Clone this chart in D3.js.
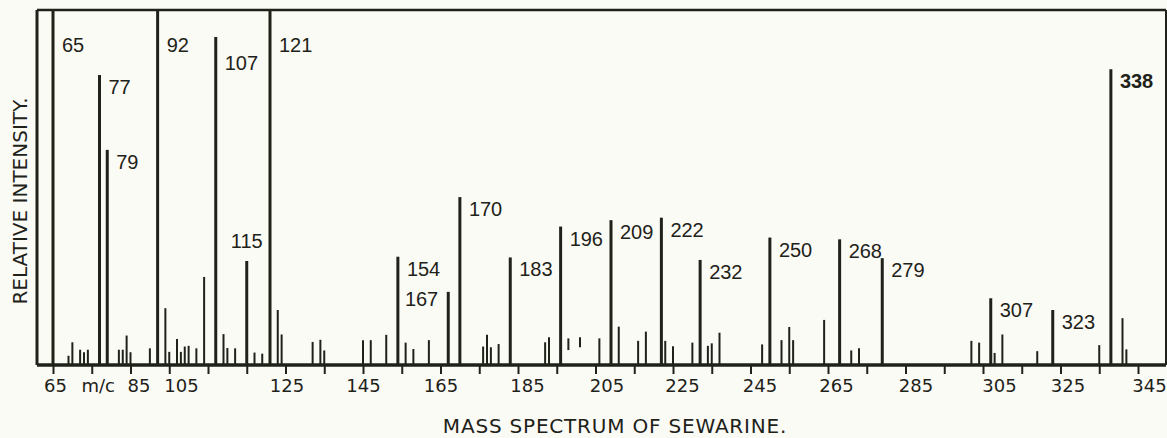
<!DOCTYPE html>
<html>
<head>
<meta charset="utf-8">
<script src="https://cdn.jsdelivr.net/npm/d3@7"></script>
<style>
	body { margin: 0; background: #fbfbf5; }
	svg { display: block; }
</style>
</head>
<body>
<script>
// Mass spectrum of sewarine, drawn with D3

// Labelled peaks (m/c) and relative intensity (100 = top of frame, off-scale)
var labelledMz = [65, 77, 79, 92, 107, 115, 121, 154, 167, 170, 183, 196, 209, 222, 232, 250, 268, 279, 307, 323, 338];
var labelledInt = [100, 81.7, 60.6, 100, 92.4, 29.3, 100, 30.5, 20.6, 47.3, 30.3, 39.0, 40.8, 41.5, 29.6, 35.9, 35.4, 30.1, 18.8, 15.5, 83.3];

// Minor peaks
var minorMz = [69, 70, 72, 73, 74, 82, 83, 84, 85, 90, 94, 95, 97, 98, 99, 100, 102, 104, 109, 110, 112, 117, 119, 123, 124,
	132, 134, 135, 145, 147, 151, 156, 158, 162, 176, 177, 178, 180, 192, 193, 206, 211, 216, 218, 223, 225, 230,
	234, 235, 237, 248, 253, 255, 256, 264, 271, 273, 302, 304, 308, 310, 319, 335, 341, 342];
var minorInt = [2.6, 6.4, 4.3, 3.6, 4.3, 4.3, 4.3, 8.3, 3.6, 4.7, 16.0, 3.7, 7.3, 3.7, 5.2, 5.4, 4.7, 24.8, 8.7, 4.8, 4.7, 3.5, 3.2, 15.5, 8.6,
	6.5, 7.1, 4.1, 7.0, 7.0, 8.5, 6.3, 4.5, 7.0, 5.2, 8.5, 5.0, 5.9, 6.4, 7.8, 7.5, 10.8, 6.8, 9.4, 6.8, 5.3, 6.3,
	5.4, 6.1, 9.1, 5.8, 7.0, 10.7, 7.0, 12.7, 4.1, 4.7, 6.8, 6.3, 3.4, 8.6, 3.9, 5.6, 13.2, 4.4];

// Short floating marks (not on the baseline)
var floatMz = [198, 201];
var floatLo = [4.2, 5.0];
var floatHi = [7.5, 7.8];

// Axis ticks
var tickValues = d3.range(65, 346, 10);
var tickLabels = ['65', 'm/c', '85', '', '105', '', '125', '', '145', '', '165', '', '185', '', '205', '',
	'225', '', '245', '', '265', '', '285', '', '305', '', '325', '', '345'];

var titleText = 'MASS SPECTRUM OF SEWARINE.';
var yTitleText = 'RELATIVE INTENSITY.';

// Width & Height
var w = 1167;
var h = 438;
var ink = '#1e2219';
var frameLeft = 37, frameRight = 1166, frameTop = 10, baseY = 365;

var x = d3.scaleLinear().domain([65, 345]).range([53, 1138]);
var y = d3.scaleLinear().domain([0, 100]).range([baseY, frameTop]);

var svg = d3.select('body')
			.append('svg')
			.attr('width', w)
			.attr('height', h);

svg.append('rect')
	.attr('width', w)
	.attr('height', h)
	.attr('fill', '#fbfbf5');

// Frame
var frame = svg.append('g')
	.attr('stroke', ink)
	.attr('stroke-width', 3)
	.attr('fill', 'none');
frame.append('line').attr('x1', frameLeft).attr('x2', frameRight).attr('y1', frameTop).attr('y2', frameTop).attr('stroke-width', 2.5);
frame.append('line').attr('x1', frameLeft).attr('x2', frameLeft).attr('y1', frameTop).attr('y2', baseY);
frame.append('line').attr('x1', frameRight).attr('x2', frameRight).attr('y1', frameTop).attr('y2', baseY).attr('stroke-width', 2);

// Minor peaks
svg.append('g')
	.selectAll('line')
	.data(minorMz)
	.enter()
	.append('line')
	.attr('x1', function(d){ return x(d); })
	.attr('x2', function(d){ return x(d); })
	.attr('y1', baseY)
	.attr('y2', function(d, i){ return y(minorInt[i]); })
	.attr('stroke', ink)
	.attr('stroke-width', 2);

// Floating marks
svg.append('g')
	.selectAll('line')
	.data(floatMz)
	.enter()
	.append('line')
	.attr('x1', function(d){ return x(d); })
	.attr('x2', function(d){ return x(d); })
	.attr('y1', function(d, i){ return y(floatLo[i]); })
	.attr('y2', function(d, i){ return y(floatHi[i]); })
	.attr('stroke', ink)
	.attr('stroke-width', 2);

// Labelled peaks
svg.append('g')
	.selectAll('line')
	.data(labelledMz)
	.enter()
	.append('line')
	.attr('x1', function(d){ return x(d); })
	.attr('x2', function(d){ return x(d); })
	.attr('y1', baseY)
	.attr('y2', function(d, i){ return y(labelledInt[i]); })
	.attr('stroke', ink)
	.attr('stroke-width', 3);

// Peak labels (most sit right of the bar top; a few are lettered elsewhere)
svg.append('g')
	.selectAll('text')
	.data(labelledMz)
	.enter()
	.append('text')
	.text(function(d){ return d; })
	.attr('x', function(d){
		if (d === 115) return x(d);
		if (d === 167) return x(d) - 10;
		return x(d) + 9;
	})
	.attr('y', function(d, i){
		var top = y(labelledInt[i]);
		if (d === 115) return top - 13;
		if (d === 167) return top + 14;
		if (d === 107) return top + 33;
		return Math.max(top + 19, 52);
	})
	.attr('text-anchor', function(d){
		if (d === 115) return 'middle';
		if (d === 167) return 'end';
		return 'start';
	})
	.attr('font-family', 'Liberation Sans, Arial, sans-serif')
	.attr('font-size', '20px')
	.attr('font-weight', function(d){ return d === 338 ? 'bold' : 'normal'; })
	.attr('fill', ink);

// X axis
var labelNudge = {65: 2, 75: 6, 85: 8, 105: -27, 125: 1, 145: 0, 165: 0, 185: 9, 205: 11, 225: 9,
	245: 9, 265: 8, 285: 10, 305: 16, 325: 7, 345: 11};

var xAxis = d3.axisBottom(x)
	.tickValues(tickValues)
	.tickSize(9)
	.tickFormat(function(d, i){ return tickLabels[i]; });

var gx = svg.append('g')
	.attr('transform', 'translate(0,' + baseY + ')')
	.call(xAxis);
gx.select('.domain').remove();
gx.selectAll('.tick line')
	.attr('stroke', ink)
	.attr('stroke-width', 2);
gx.selectAll('.tick text')
	.attr('y', 27)
	.attr('dy', 0)
	.attr('dx', function(d){ return labelNudge[d] || 0; })
	.attr('font-family', 'DejaVu Sans, sans-serif')
	.attr('font-size', '18px')
	.attr('fill', ink);

// Baseline
svg.append('line')
	.attr('x1', frameLeft)
	.attr('x2', frameRight)
	.attr('y1', baseY)
	.attr('y2', baseY)
	.attr('stroke', ink)
	.attr('stroke-width', 3.5);

// Titles
svg.append('text')
	.text(titleText)
	.attr('x', 615)
	.attr('y', 433)
	.attr('text-anchor', 'middle')
	.attr('font-family', 'DejaVu Sans, sans-serif')
	.attr('font-size', '20px')
	.attr('letter-spacing', '0.8px')
	.attr('fill', ink);

svg.append('text')
	.text(yTitleText)
	.attr('transform', 'translate(27,201) rotate(-90)')
	.attr('text-anchor', 'middle')
	.attr('font-family', 'DejaVu Sans, sans-serif')
	.attr('font-size', '20px')
	.attr('fill', ink);
</script>
</body>
</html>
